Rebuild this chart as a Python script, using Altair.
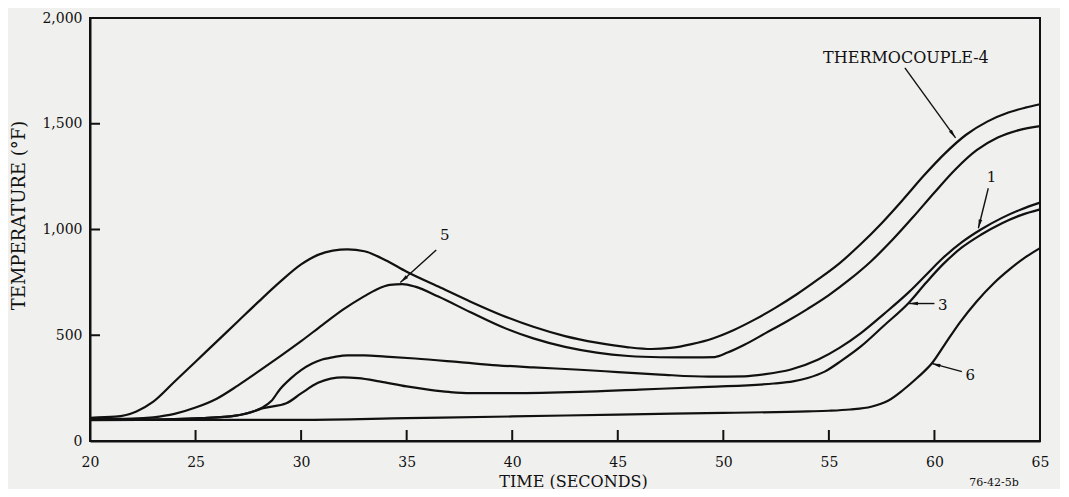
import math
import altair as alt
import pandas as pd

# ---------------- data ----------------
tc4_time = [20, 21.2, 22.2, 23.0, 24, 25, 26, 27, 28, 29, 30, 30.8, 31.5, 32.2, 33, 34, 35, 36.5,
            38, 39.5, 41, 42.5, 44, 45.5, 46.6, 47.5, 48.5, 49.5, 50.5, 51.5, 52.5, 53.5, 54.5,
            55.5, 56.5, 57.5, 58.5, 59.5, 60.5, 61.5, 62.5, 63.5, 64.3, 65]
tc4_temp = [110, 115, 140, 186, 280, 375, 470, 565, 660, 752, 835, 880, 900, 906, 897, 855, 800, 730,
            660, 595, 540, 496, 465, 443, 435, 440, 458, 485, 525, 575, 632, 695, 765,
            840, 930, 1030, 1140, 1255, 1360, 1448, 1510, 1553, 1576, 1592]

tc5_time = [20, 22, 23, 24, 25, 26, 27, 28, 29, 30, 31, 32, 33, 33.6, 34.2, 34.8, 35.4, 36.5, 38,
            39.5, 41, 42.5, 44, 45.5, 47, 48.5, 49.6, 50.2, 51, 52, 53, 54, 55, 56, 57, 58, 59,
            60, 61, 62, 63, 64, 65]
tc5_temp = [104, 106, 112, 128, 158, 200, 262, 330, 400, 472, 548, 622, 685, 718, 738, 742, 730, 683, 610,
            540, 485, 445, 418, 402, 396, 395, 397, 418, 455, 510, 565, 625, 690, 765, 850, 950, 1060,
            1175, 1285, 1375, 1435, 1470, 1489]

tc1_time = [20, 24, 25.3, 26.9, 27.8, 28.2, 28.6, 29.0, 29.5, 30.0, 30.5, 31, 31.6, 32.2, 33, 34,
            35.4, 37.5, 39.3, 41, 43.2, 45, 47, 49.3, 51, 52, 53.2, 54.5, 55.5, 56.5, 57.6, 58.8,
            59.6, 60.4, 61.3, 62.2, 63.2, 64.1, 65]
tc1_temp = [100, 104, 108, 120, 142, 160, 190, 245, 295, 335, 365, 385, 398, 405, 405, 399,
            390, 373, 358, 348, 337, 326, 314, 304, 306, 316, 338, 385, 440, 509, 600, 705,
            785, 865, 940, 1000, 1055, 1095, 1127]

tc3_time = [20, 24, 25.3, 26.9, 27.8, 28.2, 29.3, 30.0, 30.8, 31.4, 32.0, 32.7, 33.7, 35, 36.1, 37,
            38, 40, 43.2, 46, 49.3, 52.4, 53.3, 54, 54.8, 55.6, 56.5, 57.6, 58.8, 59.6, 60.4, 61.3,
            62.2, 63.2, 64.1, 65]
tc3_temp = [100, 104, 108, 120, 142, 155, 178, 225, 275, 295, 301, 297, 282, 258, 242, 232,
            226, 226, 232, 243, 256, 272, 282, 298, 328, 380, 446, 545, 655, 748, 835, 915,
            975, 1030, 1068, 1095]

tc6_time = [20, 25, 30, 35, 40, 45, 50, 54, 55, 56, 57, 57.8, 58.5, 59.2, 59.9, 60.5, 61.2, 62,
            62.8, 63.6, 64.3, 65]
tc6_temp = [98, 100, 100, 108, 116, 125, 133, 140, 143, 149, 162, 190, 240, 300, 370, 458, 560, 660,
            745, 815, 868, 912]

series_names = ["THERMOCOUPLE-4", "5", "1", "3", "6"]
series_times = [tc4_time, tc5_time, tc1_time, tc3_time, tc6_time]
series_temps = [tc4_temp, tc5_temp, tc1_temp, tc3_temp, tc6_temp]

x_label_values = [20, 25, 30, 35, 40, 45, 50, 55, 60, 65]
x_inner_ticks = [25, 30, 35, 40, 45, 50, 55, 60]
y_label_values = [0, 500, 1000, 1500, 2000]
y_inner_ticks = [500, 1000, 1500]

label_texts = ["1", "3", "6", "5"]
label_time = [62.7, 60.4, 61.7, 36.8]
label_temp = [1250, 643, 312, 974]

tc4_label = ["THERMOCOUPLE-4"]
tc4_label_time = [58.65]
tc4_label_temp = [1811]

arrow_tail_time = [58.6, 62.55, 60.0, 61.3, 36.4]
arrow_tail_temp = [1764, 1195, 650, 328, 903]
arrow_tip_time = [61.0, 62.08, 58.8, 59.87, 34.7]
arrow_tip_temp = [1433, 1006, 650, 367, 749]

footnote = ["76-42-5b"]

# ---------------- layout / style ----------------
W, H = 950, 423
X_DOMAIN = [20, 65]
Y_DOMAIN = [0, 2000]
FONT = "DejaVu Serif"
INK = "#111111"
BG = "#f0f0ee"

px_per_x = W / (X_DOMAIN[1] - X_DOMAIN[0])
px_per_y = H / (Y_DOMAIN[1] - Y_DOMAIN[0])

rows = []
for name, ts, vs in zip(series_names, series_times, series_temps):
    for t, v in zip(ts, vs):
        rows.append({"series": name, "t": t, "T": v})
curves = pd.DataFrame(rows)

xs = alt.Scale(domain=X_DOMAIN, nice=False, zero=False)
ys = alt.Scale(domain=Y_DOMAIN, nice=False, zero=False)


def x_axis():
    return alt.Axis(
        values=x_label_values, format="d", ticks=False, grid=False,
        labelFlush=False, labelPadding=14, labelFont=FONT, labelFontSize=14,
        labelColor=INK, domainColor=INK, domainWidth=2,
        title="TIME (SECONDS)", titleFont=FONT, titleFontSize=16,
        titleFontWeight="normal", titleColor=INK,
        titleX=483, titleY=40, titleBaseline="middle", titleAlign="center")


def y_axis():
    return alt.Axis(
        values=y_label_values, format=",d", ticks=False, grid=False,
        labelFlush=False, labelPadding=8, labelFont=FONT, labelFontSize=14,
        labelColor=INK, domainColor=INK, domainWidth=2,
        title="TEMPERATURE (°F)", titleFont=FONT, titleFontSize=18,
        titleFontWeight="normal", titleColor=INK,
        titleX=-71, titleY=197, titleBaseline="middle", titleAlign="center")


def X(field):
    return alt.X(field, scale=xs, axis=x_axis())


def Y(field):
    return alt.Y(field, scale=ys, axis=y_axis())


lines = alt.Chart(curves).mark_line(
    interpolate="monotone", color=INK, strokeWidth=2.2
).encode(x=X("t:Q"), y=Y("T:Q"), detail="series:N")

xt = alt.Chart(pd.DataFrame({"t": x_inner_ticks})).mark_rule(
    color=INK, strokeWidth=2
).encode(x=X("t:Q"), y=alt.value(H), y2=alt.value(H - 11))

yt = alt.Chart(pd.DataFrame({"T": y_inner_ticks})).mark_rule(
    color=INK, strokeWidth=2
).encode(y=Y("T:Q"), x=alt.value(0), x2=alt.value(10))

labels = alt.Chart(pd.DataFrame({"label": label_texts, "t": label_time, "T": label_temp})).mark_text(
    font=FONT, fontSize=15, color=INK, align="center", baseline="middle"
).encode(x=X("t:Q"), y=Y("T:Q"), text="label:N")

tc4_text = alt.Chart(pd.DataFrame({"label": tc4_label, "t": tc4_label_time, "T": tc4_label_temp})).mark_text(
    font=FONT, fontSize=16, color=INK, align="center", baseline="middle"
).encode(x=X("t:Q"), y=Y("T:Q"), text="label:N")

angles = []
for t0, v0, t1, v1 in zip(arrow_tail_time, arrow_tail_temp, arrow_tip_time, arrow_tip_temp):
    dx = (t1 - t0) * px_per_x
    dy = -(v1 - v0) * px_per_y
    angles.append(math.degrees(math.atan2(dx, -dy)) % 360)

arrows_df = pd.DataFrame({
    "t0": arrow_tail_time, "T0": arrow_tail_temp,
    "t1": arrow_tip_time, "T1": arrow_tip_temp, "ang": angles,
})

arrow_lines = alt.Chart(arrows_df).mark_rule(color=INK, strokeWidth=1.4).encode(
    x=X("t0:Q"), x2="t1:Q", y=Y("T0:Q"), y2="T1:Q",
)

arrow_heads = alt.Chart(arrows_df).mark_point(
    shape="M0,0L0.45,2.2L-0.45,2.2Z", filled=True, color=INK, opacity=1, size=64
).encode(
    x=X("t1:Q"), y=Y("T1:Q"),
    angle=alt.Angle("ang:Q", scale=None),
)

note = alt.Chart(pd.DataFrame({"note": footnote})).mark_text(
    font=FONT, fontSize=11, color=INK, align="center", baseline="middle"
).encode(text="note:N", x=alt.value(904), y=alt.value(465))

chart = alt.layer(
    lines, xt, yt, arrow_lines, arrow_heads, labels, tc4_text, note
).properties(
    width=W, height=H,
    autosize=alt.AutoSizeParams(type="none"),
    padding={"left": 82, "top": 10, "right": 20, "bottom": 48},
    background=BG,
).configure_view(
    stroke=INK, strokeWidth=2
)

chart.save("out.html", embed_options={"renderer": "svg", "actions": False})
